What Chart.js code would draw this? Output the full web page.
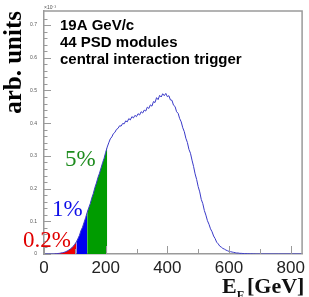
<!DOCTYPE html>
<html><head><meta charset="utf-8">
<script src="https://cdn.jsdelivr.net/npm/chart.js@4"></script>
<style>html,body{margin:0;padding:0;background:#fff;}#wrap{width:309px;height:297px;}</style>
</head><body><div id="wrap"><canvas id="c" width="309" height="297"></canvas></div>
<script>
// ---- data (values in units of 1e-3) ----
const energies = [0,5,10,15,20,25,30,35,40,45,50,55,60,65,70,75,80,85,90,95,100,105,110,115,120,125,130,135,140,145,150,155,160,165,170,175,180,185,190,195,200,205,210,215,220,225,230,235,240,245,250,255,260,265,270,275,280,285,290,295,300,305,310,315,320,325,330,335,340,345,350,355,360,365,370,375,380,385,390,395,400,405,410,415,420,425,430,435,440,445,450,455,460,465,470,475,480,485,490,495,500,505,510,515,520,525,530,535,540,545,550,555,560,565,570,575,580,585,590,595,600,605,610,615,620,625,630,635,640,645,650,655,660,665,670,675,680,685,690,700,720,760,800,835];
const counts = [0,0,0,0,0,0,0,0.0005,0.001,0.0015,0.002,0.003,0.004,0.005,0.007,0.009,0.012,0.015,0.019,0.024,0.030,0.037,0.047,0.057,0.072,0.082,0.097,0.111,0.127,0.141,0.154,0.171,0.185,0.203,0.217,0.234,0.247,0.263,0.279,0.293,0.311,0.327,0.340,0.352,0.358,0.368,0.372,0.381,0.384,0.392,0.391,0.399,0.398,0.407,0.404,0.414,0.410,0.420,0.416,0.424,0.420,0.429,0.425,0.435,0.431,0.440,0.437,0.449,0.445,0.456,0.452,0.466,0.463,0.478,0.472,0.485,0.480,0.490,0.484,0.491,0.481,0.484,0.471,0.470,0.455,0.451,0.435,0.430,0.414,0.404,0.386,0.374,0.354,0.341,0.320,0.308,0.287,0.268,0.245,0.228,0.206,0.190,0.167,0.154,0.133,0.119,0.102,0.091,0.077,0.068,0.055,0.047,0.036,0.031,0.024,0.021,0.017,0.015,0.012,0.010,0.008,0.007,0.006,0.005,0.004,0.003,0.003,0.002,0.002,0.0015,0.001,0.001,0.001,0.0005,0.0005,0.0005,0.0003,0.0002,0,0,0,0,0,0];
// centrality class boundaries (GeV): [start, end]
const classNames = ['0.2%','1%','5%'];
const classRanges = [[35,105],[105,140],[140,205]];
const classColors = ['#f00000','#0000f0','#009c00'];
const classTextColors = ['#e00000','#1010e8','#1e8c1e'];
const xTickValues = [0,200,400,600,800];
const xMinorTicks = [100,300,500,700];
const yTickValues = [0,0.1,0.2,0.3,0.4,0.5,0.6,0.7];
const yMinorTicks = [0.02,0.04,0.06,0.08,0.12,0.14,0.16,0.18,0.22,0.24,0.26,0.28,0.32,0.34,0.36,0.38,0.42,0.44,0.46,0.48,0.52,0.54,0.56,0.58,0.62,0.64,0.66,0.68,0.72];
const headerLines = ['19A GeV/c','44 PSD modules','central interaction trigger'];
const yTitle = 'arb. units';
const yExponent = '×10⁻³';

const points = energies.map((e,i)=>({x:e,y:counts[i]}));
const fillSets = classRanges.map((r,k)=>({
  data: points.filter(p=>p.x>=r[0] && p.x<=r[1]),
  borderWidth:0, pointRadius:0, fill:'origin', backgroundColor:classColors[k], order:1
}));

const decor = {
  id:'decor',
  afterDraw(chart){
    const {ctx, chartArea:a, scales:{x,y}} = chart;
    ctx.save();
    ctx.strokeStyle='#9a9a9a'; ctx.lineWidth=1.5;
    ctx.beginPath(); ctx.moveTo(a.left,a.top); ctx.lineTo(a.right,a.top); ctx.lineTo(a.right,a.bottom); ctx.stroke();
    ctx.lineWidth=1;
    const tick=(px,len,hor)=>{ctx.beginPath(); if(hor){ctx.moveTo(a.left,px);ctx.lineTo(a.left+len,px);} else {ctx.moveTo(px,a.bottom);ctx.lineTo(px,a.bottom-len);} ctx.stroke();};
    xTickValues.forEach(v=>tick(Math.round(x.getPixelForValue(v))+0.5,8,false));
    xMinorTicks.forEach(v=>tick(Math.round(x.getPixelForValue(v))+0.5,5,false));
    yTickValues.forEach(v=>tick(Math.round(y.getPixelForValue(v))+0.5,7,true));
    yMinorTicks.forEach(v=>tick(Math.round(y.getPixelForValue(v))+0.5,3.5,true));
    // exponent
    ctx.fillStyle='#555'; ctx.font='5px "Liberation Sans"'; ctx.textBaseline='alphabetic'; ctx.textAlign='left';
    ctx.fillText(yExponent, a.left, a.top-2);
    // header
    ctx.fillStyle='#000'; ctx.font='bold 15px "Liberation Sans"'; ctx.textBaseline='middle';
    headerLines.forEach((t,i)=>ctx.fillText(t, 60, 26+i*17));
    // class labels
    ctx.font='23px "Liberation Serif"';
    const lpos=[[23,241],[52,210],[65,160]];
    classNames.forEach((t,i)=>{ctx.fillStyle=classTextColors[i]; ctx.fillText(t, lpos[i][0], lpos[i][1]);});
    // x title with subscript
    ctx.fillStyle='#111'; ctx.textBaseline='alphabetic';
    let px=222; const base=293;
    ctx.font='bold 22px "Liberation Serif"'; ctx.fillText('E',px,base); px+=ctx.measureText('E').width;
    ctx.font='bold 12px "Liberation Serif"'; ctx.fillText('F',px,base+6); px+=ctx.measureText('F').width+3;
    ctx.font='bold 22px "Liberation Serif"'; ctx.fillText('[GeV]',px,base);
    ctx.restore();
  }
};

Chart.defaults.font.family='"Liberation Sans"';
new Chart(document.getElementById('c'),{
  type:'line',
  data:{datasets:[
    {data:points, borderColor:'#3a3ac8', borderWidth:1, pointRadius:0, fill:false, order:0, tension:0},
    ...fillSets
  ]},
  options:{
    responsive:false, animation:false, devicePixelRatio:1,
    layout:{padding:{top:11,right:3,left:0,bottom:0}},
    plugins:{legend:{display:false}, tooltip:{enabled:false}},
    scales:{
      x:{type:'linear', min:0, max:837,
        afterBuildTicks:s=>{s.ticks=xTickValues.map(v=>({value:v}));},
        afterFit:s=>{s.height=43;},
        grid:{display:false, drawTicks:false},
        border:{display:true,color:'#9a9a9a',width:1.5},
        ticks:{padding:4, maxRotation:0, autoSkip:false, color:'#222', font:{size:17}, callback:v=>String(v)}
      },
      y:{type:'linear', min:0, max:0.743,
        afterBuildTicks:s=>{s.ticks=yTickValues.map(v=>({value:v}));},
        afterFit:s=>{s.width=44;},
        grid:{display:false, drawTicks:false},
        border:{display:true,color:'#9a9a9a',width:1.5},
        title:{display:true, text:yTitle, align:'end', color:'#000', padding:{top:0,bottom:0}, font:{family:'"Liberation Serif"', size:25, weight:'bold', lineHeight:1.2}},
        ticks:{padding:7, color:'#555', font:{size:5}, callback:v=>v===0?'0':v.toFixed(1)}
      }
    }
  },
  plugins:[decor]
});
</script></body></html>
